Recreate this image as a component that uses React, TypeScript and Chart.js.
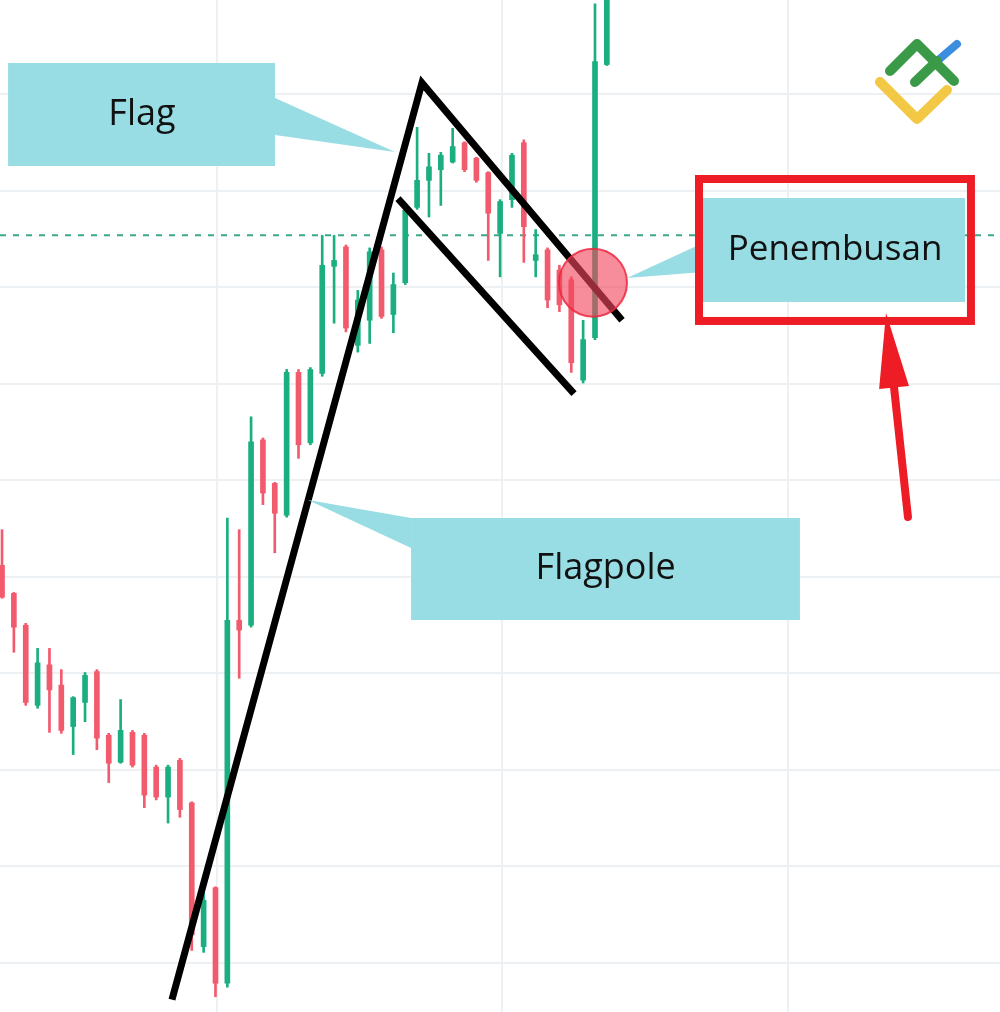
import React, { useEffect, useRef } from "react";
import { Chart, registerables } from "chart.js";

Chart.register(...registerables);

// ---- Candle data (price units) ----
const OPEN = [
  141.2, 138.3, 135.0, 126.7, 130.9, 128.8, 124.5, 127.0, 130.2, 123.6,
  120.8, 123.9, 123.6, 120.3, 117.2, 121.0, 116.6, 101.7, 107.8, 97.9,
  135.5, 135.0, 154.2, 149.7, 146.4, 161.2, 153.9, 161.1, 172.2, 174.2,
  164.0, 166.6, 173.9, 167.2, 170.5, 178.3, 181.1, 182.2, 183.0, 185.0,
  183.4, 181.9, 175.6, 179.1, 185.0, 172.8, 173.9, 171.8, 170.8, 160.4,
  164.8, 193.1,
];
const HIGH = [
  144.9, 138.4, 135.2, 132.6, 132.6, 130.4, 127.6, 130.1, 130.4, 123.8,
  127.3, 124.1, 123.8, 120.5, 120.5, 121.2, 116.7, 107.3, 107.9, 146.1,
  144.9, 156.6, 154.4, 149.8, 161.5, 161.5, 161.7, 175.4, 175.4, 174.4,
  169.7, 174.1, 174.2, 171.5, 178.3, 186.6, 183.9, 184.0, 186.5, 185.1,
  183.5, 182.0, 179.1, 183.9, 185.3, 176.0, 174.1, 172.3, 171.1, 166.6,
  199.4, 202.0,
];
const LOW = [
  137.8, 132.2, 126.7, 126.4, 123.9, 123.8, 121.6, 125.0, 122.1, 118.7,
  120.7, 120.3, 116.1, 116.9, 114.5, 115.1, 101.3, 101.1, 96.5, 97.5,
  129.5, 134.8, 147.5, 142.5, 146.2, 152.3, 153.7, 160.8, 166.3, 165.4,
  163.3, 164.2, 166.8, 165.3, 170.3, 178.1, 177.3, 178.5, 182.9, 182.0,
  180.9, 172.8, 171.1, 178.3, 172.6, 171.1, 167.9, 167.5, 161.2, 160.1,
  164.6, 193.0,
];
const CLOSE = [
  137.9, 134.8, 127.0, 131.1, 128.3, 124.1, 127.5, 129.8, 123.3, 120.7,
  124.1, 120.5, 117.4, 117.2, 120.3, 115.9, 102.9, 106.5, 97.9, 135.5,
  134.5, 154.0, 148.7, 146.6, 161.2, 153.7, 161.5, 172.3, 172.8, 165.8,
  168.7, 173.7, 167.0, 170.3, 178.0, 181.1, 182.5, 183.7, 184.6, 182.2,
  181.1, 177.7, 178.9, 183.7, 176.3, 173.4, 168.7, 168.2, 162.2, 164.6,
  193.4, 201.5,
];
const CANDLE_X = OPEN.map((_, i) => i);

// ---- Axis / grid ----
const X_RANGE = [-0.17, 84.15];
const Y_RANGE = [94.92, 199.79];
const X_GRID = [18.1, 42.2, 66.3];
const Y_GRID = [100, 110, 120, 130, 140, 150, 160, 170, 180, 190];

// ---- Pattern lines ----
const POLE_X = [14.33, 35.41, 52.28];
const POLE_Y = [96.2, 191.2, 166.6];
const FLAG_LOW_X = [33.39, 48.23];
const FLAG_LOW_Y = [179.2, 159.0];
const BREAKOUT_LEVEL = 175.4;
const BREAKOUT_POINT = [49.83, 170.5];

// ---- Callouts (data coordinates) ----
const CALLOUTS = [
  {
    text: "Flag",
    box: [0.51, 193.26, 23.02, 182.59],
    tail: [[23.02, 189.64], [33.14, 184.04], [23.02, 185.8]],
    at: [11.8, 186.84],
    size: 36,
  },
  {
    text: "Flagpole",
    box: [34.49, 146.11, 67.28, 135.54],
    tail: [[34.49, 146.11], [25.8, 147.98], [34.49, 143.01]],
    at: [50.9, 139.8],
    size: 36,
  },
  {
    text: "Penembusan",
    box: [59.11, 179.27, 81.2, 168.5],
    tail: [[59.11, 174.61], [52.7, 170.98], [59.11, 171.61]],
    at: [70.24, 172.85],
    size: 35,
  },
];
const FRAME = [58.77, 181.24, 81.7, 166.53];
const ARROW_FROM = [76.39, 146.22];
const ARROW_TO = [74.54, 167.36];

const GREEN = "#1bae80";
const RED = "#f25a6e";
const TEAL = "#98dde3";
const FRAME_RED = "#ee1c24";

const candleColors = OPEN.map((o, i) => (CLOSE[i] >= o ? GREEN : RED));

const annotationPlugin = {
  id: "flagAnnotations",
  afterDatasetsDraw(chart: any) {
    const { ctx, chartArea } = chart;
    const xs = chart.scales.x;
    const ys = chart.scales.y;
    const X = (v: number) => xs.getPixelForValue(v);
    const Y = (v: number) => ys.getPixelForValue(v);
    ctx.save();

    // callouts
    for (const c of CALLOUTS) {
      ctx.fillStyle = TEAL;
      ctx.beginPath();
      c.tail.forEach((p, k) => {
        if (k === 0) ctx.moveTo(X(p[0]), Y(p[1]));
        else ctx.lineTo(X(p[0]), Y(p[1]));
      });
      ctx.closePath();
      ctx.fill();
      const x0 = X(c.box[0]);
      const y0 = Y(c.box[1]);
      ctx.fillRect(x0, y0, X(c.box[2]) - x0, Y(c.box[3]) - y0);
      ctx.fillStyle = "#111";
      ctx.font = `${c.size}px "Open Sans", "Noto Sans", sans-serif`;
      ctx.textAlign = "center";
      ctx.textBaseline = "alphabetic";
      ctx.fillText(c.text, X(c.at[0]), Y(c.at[1]));
    }

    // red frame
    ctx.strokeStyle = FRAME_RED;
    ctx.lineWidth = 8;
    const fx = X(FRAME[0]);
    const fy = Y(FRAME[1]);
    ctx.strokeRect(fx, fy, X(FRAME[2]) - fx, Y(FRAME[3]) - fy);

    // red arrow
    const ax0 = X(ARROW_FROM[0]);
    const ay0 = Y(ARROW_FROM[1]);
    const ax1 = X(ARROW_TO[0]);
    const ay1 = Y(ARROW_TO[1]);
    const dx = ax1 - ax0;
    const dy = ay1 - ay0;
    const len = Math.hypot(dx, dy);
    const ux = dx / len;
    const uy = dy / len;
    const headLen = 75;
    const headHalf = 15;
    const bx = ax1 - ux * headLen;
    const by = ay1 - uy * headLen;
    ctx.strokeStyle = FRAME_RED;
    ctx.lineWidth = 8;
    ctx.lineCap = "round";
    ctx.beginPath();
    ctx.moveTo(ax0, ay0);
    ctx.lineTo(bx + ux * 4, by + uy * 4);
    ctx.stroke();
    ctx.fillStyle = FRAME_RED;
    ctx.beginPath();
    ctx.moveTo(ax1, ay1);
    ctx.lineTo(bx - uy * headHalf, by + ux * headHalf);
    ctx.lineTo(bx + uy * headHalf, by - ux * headHalf);
    ctx.closePath();
    ctx.fill();

    // logo (top-right corner watermark)
    const R = chartArea.right;
    const T = chartArea.top;
    ctx.lineCap = "round";
    ctx.lineJoin = "round";
    ctx.strokeStyle = "#3b8de0";
    ctx.lineWidth = 8;
    ctx.beginPath();
    ctx.moveTo(R - 64, T + 62);
    ctx.lineTo(R - 43, T + 44);
    ctx.stroke();
    ctx.strokeStyle = "#f3c845";
    ctx.lineWidth = 10;
    ctx.beginPath();
    ctx.moveTo(R - 120, T + 82);
    ctx.lineTo(R - 83, T + 119);
    ctx.lineTo(R - 53, T + 90);
    ctx.stroke();
    ctx.strokeStyle = "#3a9a47";
    ctx.lineWidth = 10;
    ctx.beginPath();
    ctx.moveTo(R - 110, T + 71);
    ctx.lineTo(R - 83, T + 44);
    ctx.lineTo(R - 46, T + 81);
    ctx.stroke();
    ctx.beginPath();
    ctx.moveTo(R - 85, T + 82);
    ctx.lineTo(R - 63, T + 61);
    ctx.stroke();

    ctx.restore();
  },
};

export default function App() {
  const ref = useRef<HTMLCanvasElement>(null);

  useEffect(() => {
    document.body.style.margin = "0";
    const canvas = ref.current!;
    const chart = new Chart(canvas, {
      type: "bar",
      data: {
        datasets: [
          {
            type: "bubble",
            data: [{ x: BREAKOUT_POINT[0], y: BREAKOUT_POINT[1] }],
            radius: 34,
            hoverRadius: 0,
            backgroundColor: "rgba(242, 70, 92, 0.62)",
            borderColor: "rgba(236, 40, 64, 0.85)",
            borderWidth: 2,
            order: 0,
          } as any,
          {
            type: "line",
            data: POLE_X.map((x, i) => ({ x, y: POLE_Y[i] })),
            borderColor: "#000",
            borderWidth: 7,
            pointRadius: 0,
            tension: 0,
            fill: false,
            borderJoinStyle: "miter",
            borderCapStyle: "butt",
            order: 1,
          } as any,
          {
            type: "line",
            data: FLAG_LOW_X.map((x, i) => ({ x, y: FLAG_LOW_Y[i] })),
            borderColor: "#000",
            borderWidth: 7,
            pointRadius: 0,
            tension: 0,
            fill: false,
            borderCapStyle: "butt",
            order: 1,
          } as any,
          {
            type: "bar",
            data: CANDLE_X.map((x, i) => ({ x, y: [OPEN[i], CLOSE[i]] })),
            backgroundColor: candleColors,
            barThickness: 5,
            grouped: false,
            borderWidth: 0,
            order: 2,
          } as any,
          {
            type: "bar",
            data: CANDLE_X.map((x, i) => ({ x, y: [LOW[i], HIGH[i]] })),
            backgroundColor: candleColors,
            barThickness: 2,
            grouped: false,
            borderWidth: 0,
            order: 3,
          } as any,
          {
            type: "line",
            data: [
              { x: X_RANGE[0], y: BREAKOUT_LEVEL },
              { x: X_RANGE[1], y: BREAKOUT_LEVEL },
            ],
            borderColor: "#3aa88b",
            borderWidth: 2,
            borderDash: [6, 7],
            pointRadius: 0,
            fill: false,
            order: 4,
          } as any,
        ],
      },
      options: {
        responsive: false,
        animation: false,
        events: [],
        layout: { padding: 0, autoPadding: false },
        plugins: {
          legend: { display: false },
          tooltip: { enabled: false },
        },
        scales: {
          x: {
            type: "linear",
            min: X_RANGE[0],
            max: X_RANGE[1],
            offset: false,
            afterBuildTicks: (s: any) => {
              s.ticks = X_GRID.map((value) => ({ value }));
            },
            ticks: { display: false },
            border: { display: false },
            grid: { color: "#eef1f3", lineWidth: 2, drawTicks: false, offset: false },
          },
          y: {
            type: "linear",
            min: Y_RANGE[0],
            max: Y_RANGE[1],
            afterBuildTicks: (s: any) => {
              s.ticks = Y_GRID.map((value) => ({ value }));
            },
            ticks: { display: false },
            border: { display: false },
            grid: { color: "#eef1f3", lineWidth: 2, drawTicks: false },
          },
        },
      } as any,
      plugins: [annotationPlugin],
    });
    return () => chart.destroy();
  }, []);

  return (
    <div style={{ width: 1000, height: 1012, position: "relative" }}>
      <canvas ref={ref} width={1000} height={1012} style={{ display: "block" }} />
    </div>
  );
}
